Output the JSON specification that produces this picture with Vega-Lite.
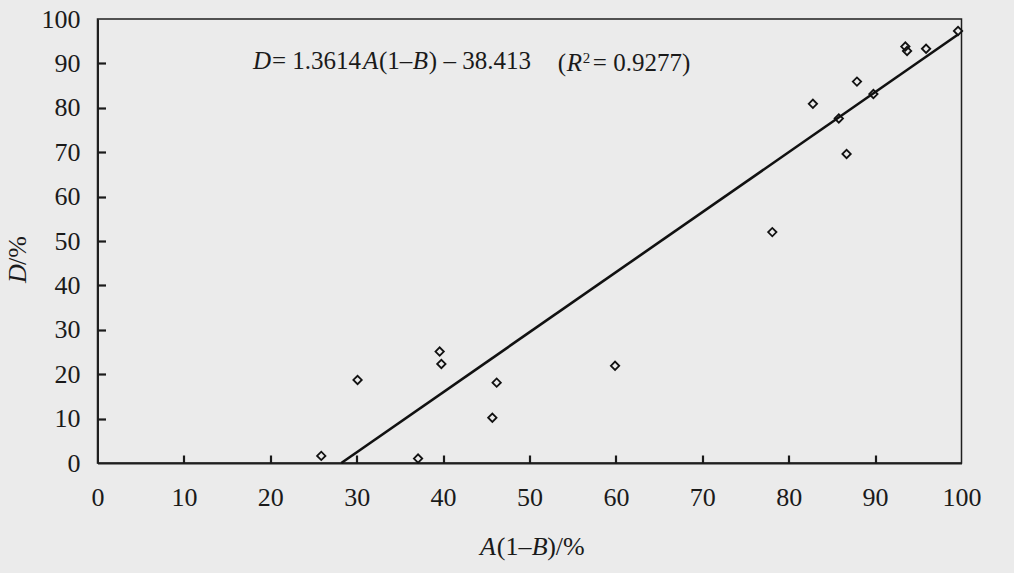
{
  "$schema": "https://vega.github.io/schema/vega-lite/v6.json",
  "width": 864,
  "height": 444,
  "autosize": {"type": "none"},
  "padding": {"left": 97.5, "top": 19, "right": 52.5, "bottom": 110},
  "background": "#ebebeb",
  "config": {
    "view": {"stroke": "#1f1f1f", "strokeWidth": 1.5},
    "font": "Liberation Serif",
    "text": {"font": "Liberation Serif", "color": "#1a1a1a"}
  },
  "datasets": {
    "points": [
      {"a": 25.9, "d": 1.6},
      {"a": 30.1, "d": 18.7},
      {"a": 37.1, "d": 1.0},
      {"a": 39.6, "d": 25.1},
      {"a": 39.8, "d": 22.3},
      {"a": 45.7, "d": 10.2},
      {"a": 46.2, "d": 18.1},
      {"a": 59.9, "d": 21.9},
      {"a": 78.1, "d": 52.0},
      {"a": 82.8, "d": 80.9},
      {"a": 85.8, "d": 77.6},
      {"a": 86.7, "d": 69.6},
      {"a": 87.9, "d": 85.9},
      {"a": 89.8, "d": 83.1},
      {"a": 93.5, "d": 93.8},
      {"a": 93.7, "d": 92.8},
      {"a": 95.9, "d": 93.3},
      {"a": 99.6, "d": 97.3}
    ],
    "fit": [
      {"a": 28.22, "d": 0},
      {"a": 99.6, "d": 96.5}
    ]
  },
  "resolve": {"axis": {"x": "independent", "y": "independent"}},
  "layer": [
    {
      "layer": [
        {
          "data": {"name": "fit"},
          "mark": {"type": "line", "color": "#111111", "strokeWidth": 2.6},
          "encoding": {
            "x": {
              "field": "a", "type": "quantitative",
              "scale": {"domain": [0, 100], "nice": false, "zero": false},
              "axis": {
                "values": [0, 10, 20, 30, 40, 50, 60, 70, 80, 90, 100],
                "grid": false, "title": null, "ticks": true, "tickSize": 0, "tickWidth": 0,
                "domainColor": "#1f1f1f", "domainWidth": 2,
                "labelFont": "Liberation Serif", "labelFontSize": 26, "labelColor": "#1a1a1a",
                "labelPadding": 21, "labelFlush": false, "labelOverlap": false
              }
            },
            "y": {
              "field": "d", "type": "quantitative",
              "scale": {"domain": [0, 100], "nice": false, "zero": false},
              "axis": {
                "values": [0, 10, 20, 30, 40, 50, 60, 70, 80, 90, 100],
                "grid": false, "title": null, "ticks": true, "tickSize": 0, "tickWidth": 0,
                "domainColor": "#1f1f1f", "domainWidth": 2,
                "labelFont": "Liberation Serif", "labelFontSize": 26, "labelColor": "#1a1a1a",
                "labelPadding": 17.5, "labelFlush": false, "labelOverlap": false
              }
            }
          }
        },
        {
          "data": {"name": "points"},
          "mark": {"type": "point", "shape": "diamond", "filled": false, "stroke": "#111111", "strokeWidth": 1.8, "size": 70, "opacity": 1},
          "encoding": {
            "x": {"field": "a", "type": "quantitative"},
            "y": {"field": "d", "type": "quantitative"}
          }
        }
      ]
    },
    {
      "data": {"name": "fit"},
      "mark": {"type": "point", "opacity": 0},
      "encoding": {
        "x": {
          "field": "a", "type": "quantitative",
          "axis": {
            "orient": "top", "offset": -444,
            "values": [10, 20, 30, 40, 50, 60, 70, 80, 90],
            "grid": false, "title": null, "labels": true, "labelOpacity": 0, "domain": false,
            "ticks": true, "tickSize": 8, "tickWidth": 2.2, "tickColor": "#1a1a1a"
          }
        },
        "y": {
          "field": "d", "type": "quantitative",
          "axis": {
            "orient": "right", "offset": -864,
            "values": [10, 20, 30, 40, 50, 60, 70, 80, 90],
            "grid": false, "title": null, "labels": true, "labelOpacity": 0, "domain": false,
            "ticks": true, "tickSize": 8, "tickWidth": 2.2, "tickColor": "#1a1a1a"
          }
        }
      }
    },
    {
      "data": {"values": [{}]},
      "mark": {"type": "text", "text": "D", "fontSize": 25, "fontStyle": "italic", "align": "left", "baseline": "alphabetic"},
      "encoding": {"x": {"datum": 17.99, "type": "quantitative", "axis": null}, "y": {"datum": 88.65, "type": "quantitative", "axis": null}}
    },
    {
      "data": {"values": [{}]},
      "mark": {"type": "text", "text": "= 1.3614", "fontSize": 25, "align": "left", "baseline": "alphabetic"},
      "encoding": {"x": {"datum": 20.19, "type": "quantitative", "axis": null}, "y": {"datum": 88.65, "type": "quantitative", "axis": null}}
    },
    {
      "data": {"values": [{}]},
      "mark": {"type": "text", "text": "A", "fontSize": 25, "fontStyle": "italic", "align": "left", "baseline": "alphabetic"},
      "encoding": {"x": {"datum": 30.72, "type": "quantitative", "axis": null}, "y": {"datum": 88.65, "type": "quantitative", "axis": null}}
    },
    {
      "data": {"values": [{}]},
      "mark": {"type": "text", "text": "(1–", "fontSize": 25, "align": "left", "baseline": "alphabetic"},
      "encoding": {"x": {"datum": 32.57, "type": "quantitative", "axis": null}, "y": {"datum": 88.65, "type": "quantitative", "axis": null}}
    },
    {
      "data": {"values": [{}]},
      "mark": {"type": "text", "text": "B", "fontSize": 25, "fontStyle": "italic", "align": "left", "baseline": "alphabetic"},
      "encoding": {"x": {"datum": 36.5, "type": "quantitative", "axis": null}, "y": {"datum": 88.65, "type": "quantitative", "axis": null}}
    },
    {
      "data": {"values": [{}]},
      "mark": {"type": "text", "text": ") – 38.413", "fontSize": 25, "align": "left", "baseline": "alphabetic"},
      "encoding": {"x": {"datum": 38.35, "type": "quantitative", "axis": null}, "y": {"datum": 88.65, "type": "quantitative", "axis": null}}
    },
    {
      "data": {"values": [{}]},
      "mark": {"type": "text", "text": "(", "fontSize": 25, "align": "left", "baseline": "alphabetic"},
      "encoding": {"x": {"datum": 53.28, "type": "quantitative", "axis": null}, "y": {"datum": 88.2, "type": "quantitative", "axis": null}}
    },
    {
      "data": {"values": [{}]},
      "mark": {"type": "text", "text": "R", "fontSize": 25, "fontStyle": "italic", "align": "left", "baseline": "alphabetic"},
      "encoding": {"x": {"datum": 54.32, "type": "quantitative", "axis": null}, "y": {"datum": 88.2, "type": "quantitative", "axis": null}}
    },
    {
      "data": {"values": [{}]},
      "mark": {"type": "text", "text": "2", "fontSize": 15, "align": "left", "baseline": "alphabetic"},
      "encoding": {"x": {"datum": 56.17, "type": "quantitative", "axis": null}, "y": {"datum": 90.2, "type": "quantitative", "axis": null}}
    },
    {
      "data": {"values": [{}]},
      "mark": {"type": "text", "text": "= 0.9277)", "fontSize": 25, "align": "left", "baseline": "alphabetic"},
      "encoding": {"x": {"datum": 57.33, "type": "quantitative", "axis": null}, "y": {"datum": 88.2, "type": "quantitative", "axis": null}}
    },
    {
      "data": {"values": [{}]},
      "mark": {"type": "text", "text": "A", "fontSize": 26, "fontStyle": "italic", "align": "left", "baseline": "alphabetic"},
      "encoding": {"x": {"datum": 44.26, "type": "quantitative", "axis": null}, "y": {"datum": -20.8, "type": "quantitative", "axis": null}}
    },
    {
      "data": {"values": [{}]},
      "mark": {"type": "text", "text": "(1–", "fontSize": 26, "align": "left", "baseline": "alphabetic"},
      "encoding": {"x": {"datum": 46.22, "type": "quantitative", "axis": null}, "y": {"datum": -20.8, "type": "quantitative", "axis": null}}
    },
    {
      "data": {"values": [{}]},
      "mark": {"type": "text", "text": "B", "fontSize": 26, "fontStyle": "italic", "align": "left", "baseline": "alphabetic"},
      "encoding": {"x": {"datum": 50.25, "type": "quantitative", "axis": null}, "y": {"datum": -20.8, "type": "quantitative", "axis": null}}
    },
    {
      "data": {"values": [{}]},
      "mark": {"type": "text", "text": ")/%", "fontSize": 26, "align": "left", "baseline": "alphabetic"},
      "encoding": {"x": {"datum": 52.05, "type": "quantitative", "axis": null}, "y": {"datum": -20.8, "type": "quantitative", "axis": null}}
    },
    {
      "data": {"values": [{}]},
      "mark": {"type": "text", "text": "D", "fontSize": 26, "fontStyle": "italic", "align": "left", "baseline": "alphabetic", "angle": 270},
      "encoding": {"x": {"datum": -8.27, "type": "quantitative", "axis": null}, "y": {"datum": 40.56, "type": "quantitative", "axis": null}}
    },
    {
      "data": {"values": [{}]},
      "mark": {"type": "text", "text": "/%", "fontSize": 26, "align": "left", "baseline": "alphabetic", "angle": 270},
      "encoding": {"x": {"datum": -8.27, "type": "quantitative", "axis": null}, "y": {"datum": 44.6, "type": "quantitative", "axis": null}}
    }
  ]
}
